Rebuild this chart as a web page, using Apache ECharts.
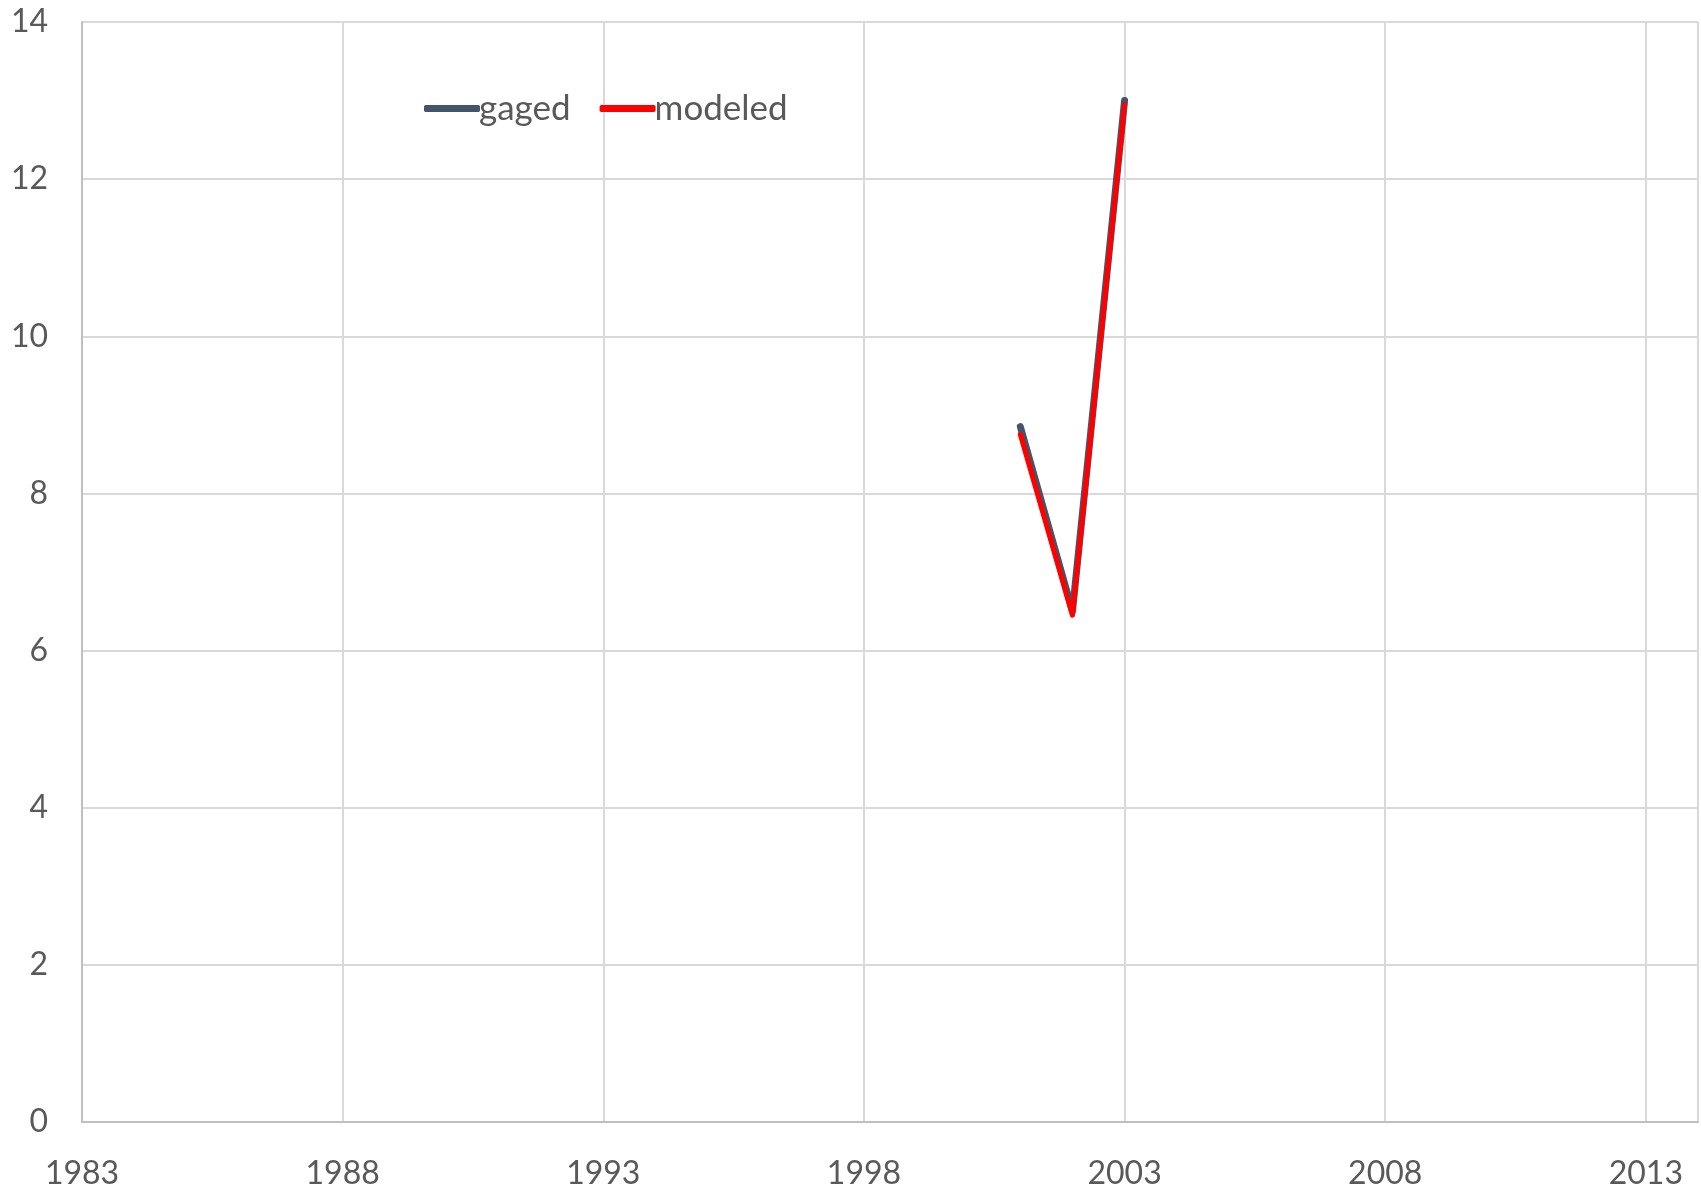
<!DOCTYPE html>
<html><head><meta charset="utf-8">
<script src="https://cdn.jsdelivr.net/npm/echarts@6/dist/echarts.min.js"></script>
<style>html,body{margin:0;padding:0;background:#fff}#c{width:1701px;height:1193px}</style>
</head><body><div id="c"></div>
<script>
const years = [2001, 2002, 2003];
const gaged = [8.85, 6.5, 13.0];
const modeled = [8.75, 6.45, 12.95];
const chart = echarts.init(document.getElementById('c'));
const font = 'Lato';
chart.setOption({
  animation: false,
  grid: {left: 82, top: 22, right: 3, bottom: 71},
  legend: {
    left: 419, top: 86, itemGap: 29, itemWidth: 56, itemHeight: 7,
    icon: 'roundRect',
    textStyle: {fontFamily: font, fontSize: 35, color: '#595959', padding: [0,0,0,-6]},
    data: [{name: 'gaged'}, {name: 'modeled'}]
  },
  xAxis: {
    type: 'value', min: 1983, max: 2014, interval: 5,
    axisLine: {lineStyle: {color: '#bfbfbf', width: 2}},
    axisTick: {show: false},
    splitLine: {show: true, lineStyle: {color: '#d9d9d9', width: 2}},
    axisLabel: {showMaxLabel: false, margin: 36, fontFamily: font, fontSize: 32, color: '#595959',
      formatter: v => String(v)}
  },
  yAxis: {
    type: 'value', min: 0, max: 14, interval: 2,
    axisLine: {show: true, lineStyle: {color: '#bfbfbf', width: 2}},
    axisTick: {show: false},
    splitLine: {show: true, lineStyle: {color: '#d9d9d9', width: 2}},
    axisLabel: {margin: 34, fontFamily: font, fontSize: 32, color: '#595959'}
  },
  series: [
    {name: 'gaged', type: 'line', showSymbol: false, symbol: 'none',
     data: years.map((y, i) => [y, gaged[i]]),
     itemStyle: {color: '#44546a'},
     lineStyle: {color: '#44546a', width: 7, cap: 'round', join: 'round'}},
    {name: 'modeled', type: 'line', showSymbol: false, symbol: 'none',
     data: years.map((y, i) => [y, modeled[i]]),
     itemStyle: {color: '#ff0000'},
     lineStyle: {color: '#ff0000', width: 5, cap: 'round', join: 'round'}}
  ]
});
</script></body></html>
